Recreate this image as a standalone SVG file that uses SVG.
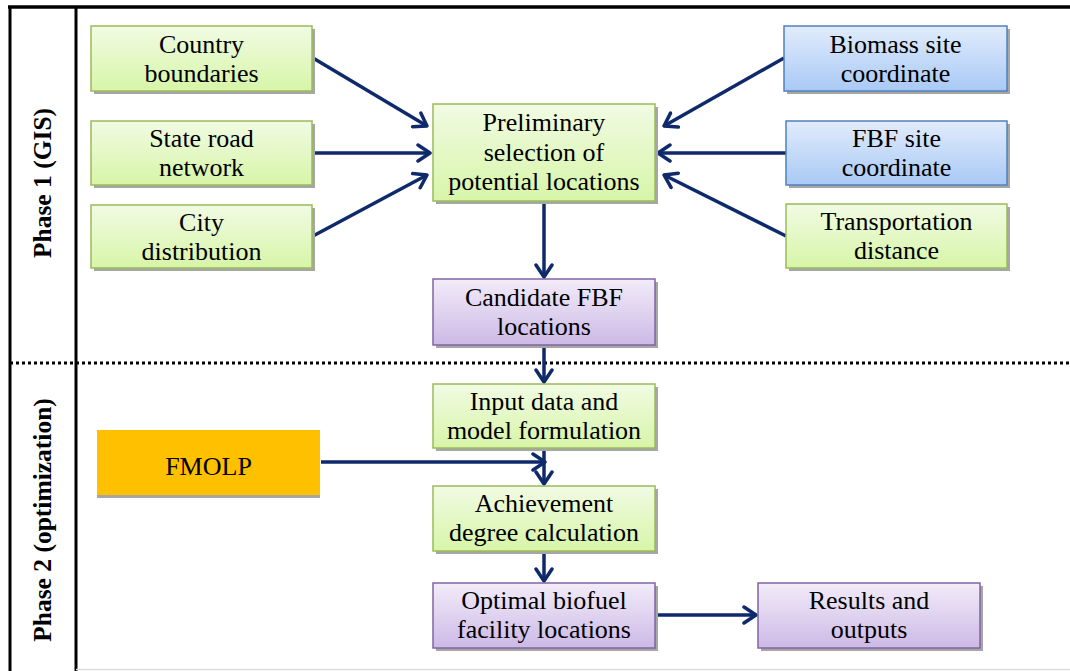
<svg xmlns="http://www.w3.org/2000/svg" width="1070" height="671" viewBox="0 0 1070 671">
<style>
.t{font-family:"Liberation Serif","Times New Roman",serif;font-size:26px;fill:#000;text-anchor:middle}
.ph{font-family:"Liberation Serif","Times New Roman",serif;font-size:25.5px;font-weight:bold;fill:#000;text-anchor:middle}
.g{fill:url(#gG);stroke:#9BBB59;stroke-width:1.5}
.b{fill:url(#gB);stroke:#4F81BD;stroke-width:1.5}
.p{fill:url(#gP);stroke:#8064A2;stroke-width:1.5}
.o{fill:#FFC000}
.sh{fill:#A6A6A6}
.c{stroke:#0E2A6B;stroke-width:3.5;fill:none;marker-end:url(#ah)}
</style>
<defs>
<linearGradient id="gG" x1="0" y1="0" x2="0" y2="1"><stop offset="0" stop-color="#F1FBE3"/><stop offset="1" stop-color="#D7F5A8"/></linearGradient>
<linearGradient id="gB" x1="0" y1="0" x2="0" y2="1"><stop offset="0" stop-color="#E1ECFC"/><stop offset="1" stop-color="#A9C9F5"/></linearGradient>
<linearGradient id="gP" x1="0" y1="0" x2="0" y2="1"><stop offset="0" stop-color="#F2ECF9"/><stop offset="1" stop-color="#CDB9E6"/></linearGradient>
<marker id="ah" viewBox="0 0 16 20" refX="14" refY="10" markerWidth="16" markerHeight="20" markerUnits="userSpaceOnUse" orient="auto">
<path d="M2,2 L14,10 L2,18" fill="none" stroke="#0E2A6B" stroke-width="3.5" stroke-linecap="round" stroke-linejoin="round"/>
</marker>
</defs>
<rect width="1070" height="671" fill="#fff"/>
<g id="frame">
<line x1="8" y1="7" x2="1070" y2="7" stroke="#000" stroke-width="3.5"/>
<line x1="10" y1="7" x2="10" y2="671" stroke="#000" stroke-width="3"/>
<line x1="76" y1="7" x2="76" y2="671" stroke="#000" stroke-width="3"/>
<line x1="10" y1="363" x2="1070" y2="363" stroke="#000" stroke-width="3" stroke-dasharray="3,3"/>
<line x1="76" y1="669.5" x2="1070" y2="669.5" stroke="#DDD" stroke-width="1.5"/>
<text class="ph" transform="translate(51,183) rotate(-90)">Phase 1 (GIS)</text>
<text class="ph" transform="translate(51,520) rotate(-90)">Phase 2 (optimization)</text>
</g>
<g id="connectors">
<line class="c" x1="313" y1="58" x2="427" y2="126"/>
<line class="c" x1="313" y1="153" x2="430" y2="153"/>
<line class="c" x1="313" y1="236" x2="427" y2="175"/>
<line class="c" x1="784" y1="58" x2="664" y2="126"/>
<line class="c" x1="786" y1="153" x2="658" y2="153"/>
<line class="c" x1="786" y1="236" x2="664" y2="175"/>
<line class="c" x1="544" y1="202" x2="544" y2="277"/>
<line class="c" x1="544" y1="346" x2="544" y2="382"/>
<line class="c" x1="321" y1="462" x2="545" y2="462"/>
<line class="c" x1="544" y1="449" x2="544" y2="484"/>
<line class="c" x1="544" y1="552" x2="544" y2="581"/>
<line class="c" x1="656" y1="615" x2="756" y2="615"/>
</g>
<g id="country">
<rect class="sh" x="94" y="29" width="221" height="65"/>
<rect class="g" x="91" y="26" width="221" height="65"/>
<text class="t" x="201.5" y="53">Country<tspan x="201.5" dy="29">boundaries</tspan></text>
</g>
<g id="road">
<rect class="sh" x="94" y="124" width="221" height="64"/>
<rect class="g" x="91" y="121" width="221" height="64"/>
<text class="t" x="201.5" y="147">State road<tspan x="201.5" dy="29">network</tspan></text>
</g>
<g id="city">
<rect class="sh" x="94" y="208" width="221" height="63"/>
<rect class="g" x="91" y="205" width="221" height="63"/>
<text class="t" x="201.5" y="231">City<tspan x="201.5" dy="29">distribution</tspan></text>
</g>
<g id="prelim">
<rect class="sh" x="436" y="107" width="222" height="97"/>
<rect class="g" x="433" y="104" width="222" height="97"/>
<text class="t" x="544" y="131">Preliminary<tspan x="544" dy="29.5">selection of</tspan><tspan x="544" dy="29.5">potential locations</tspan></text>
</g>
<g id="biomass">
<rect class="sh" x="787" y="29" width="223" height="65"/>
<rect class="b" x="784" y="26" width="223" height="65"/>
<text class="t" x="895.5" y="53">Biomass site<tspan x="895.5" dy="29">coordinate</tspan></text>
</g>
<g id="fbfsite">
<rect class="sh" x="789" y="124" width="221" height="64"/>
<rect class="b" x="786" y="121" width="221" height="64"/>
<text class="t" x="896.5" y="147">FBF site<tspan x="896.5" dy="29">coordinate</tspan></text>
</g>
<g id="transport">
<rect class="sh" x="789" y="207" width="221" height="64"/>
<rect class="g" x="786" y="204" width="221" height="64"/>
<text class="t" x="896.5" y="230">Transportation<tspan x="896.5" dy="29">distance</tspan></text>
</g>
<g id="candidate">
<rect class="sh" x="436" y="282" width="222" height="66"/>
<rect class="p" x="433" y="279" width="222" height="66"/>
<text class="t" x="544" y="306">Candidate FBF<tspan x="544" dy="29">locations</tspan></text>
</g>
<g id="input">
<rect class="sh" x="436" y="387" width="222" height="64"/>
<rect class="g" x="433" y="384" width="222" height="64"/>
<text class="t" x="544" y="410">Input data and<tspan x="544" dy="29">model formulation</tspan></text>
</g>
<g id="fmolp">
<rect class="sh" x="97" y="433" width="223" height="65"/>
<rect class="o" x="97" y="430" width="223" height="65"/>
<text class="t" x="208.5" y="475">FMOLP</text>
</g>
<g id="achievement">
<rect class="sh" x="436" y="489" width="222" height="65"/>
<rect class="g" x="433" y="486" width="222" height="65"/>
<text class="t" x="544" y="512">Achievement<tspan x="544" dy="29">degree calculation</tspan></text>
</g>
<g id="optimal">
<rect class="sh" x="436" y="586" width="222" height="65"/>
<rect class="p" x="433" y="583" width="222" height="65"/>
<text class="t" x="544" y="609">Optimal biofuel<tspan x="544" dy="29">facility locations</tspan></text>
</g>
<g id="results">
<rect class="sh" x="761" y="586" width="222" height="65"/>
<rect class="p" x="758" y="583" width="222" height="65"/>
<text class="t" x="869" y="609">Results and<tspan x="869" dy="29">outputs</tspan></text>
</g>
</svg>
